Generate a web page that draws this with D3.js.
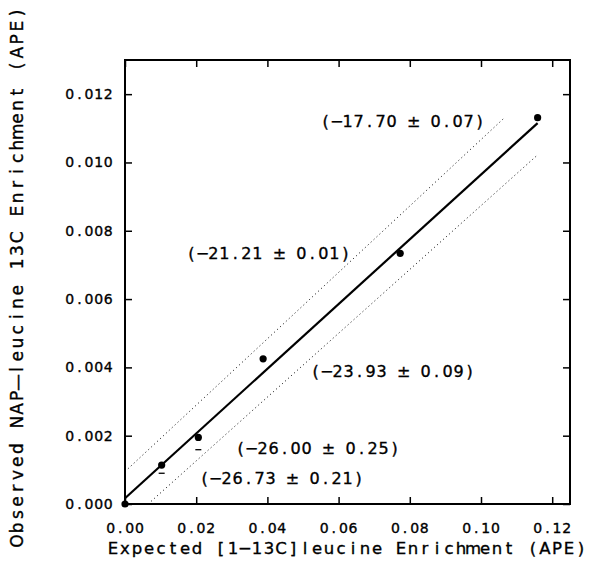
<!DOCTYPE html>
<html>
<head>
<meta charset="utf-8">
<script src="https://cdn.jsdelivr.net/npm/d3@7"></script>
<style>
  body { margin: 0; background: #fff; }
  text { font-family: 'DejaVu Sans', sans-serif; fill: #000; stroke: #000; stroke-width: 0.35px; }
</style>
</head>
<body>
<div id="chart"></div>
<script>
// observed vs expected enrichment
const expX = [0, 0.0103, 0.0206, 0.0388, 0.0773, 0.1159]
const obsY = [0, 0.00114, 0.00195, 0.00425, 0.00734, 0.01131]
const obsErr = [0, 0.00024, 0.00036, 0, 0, 0]

// regression line + dotted bands (end points)
const fitX = [0, 0.1159]
const fitY = [0.00017, 0.01115]
const upperX = [0, 0.1067]
const upperY = [0.00095, 0.01132]
const lowerX = [0.0065, 0.1161]
const lowerY = [0, 0.01024]

const xTicks = [0, 0.02, 0.04, 0.06, 0.08, 0.10, 0.12]
const yTicks = [0, 0.002, 0.004, 0.006, 0.008, 0.010, 0.012]

const labels = ['(−17.70 ± 0.07)', '(−21.21 ± 0.01)', '(−23.93 ± 0.09)', '(−26.00 ± 0.25)', '(−26.73 ± 0.21)']
const labelX = [0.0548, 0.0171, 0.0520, 0.0309, 0.0208]
const labelY = [0.01104, 0.00717, 0.00372, 0.00146, 0.00059]

const xTitle = 'Expected [1−13C]leucine Enrichment (APE)'
const yTitle = 'Observed NAP—leucine 13C Enrichment (APE)'

const W = 604, H = 568
const m = { top: 60, right: 34, bottom: 64, left: 125 }

const svg = d3.select('#chart').append('svg').attr('width', W).attr('height', H).style('background', '#fff')

const x = d3.scaleLinear().domain([0, 0.125]).range([m.left, W - m.right])
const y = d3.scaleLinear().domain([0, 0.013]).range([H - m.bottom, m.top])

// plotter font is fixed pitch: put every glyph in its own cell
function monoText (sel, str, x0, y0, cell, size) {
  const chars = Array.from(str)
  return sel.append('text')
    .attr('x', chars.map((c, i) => (x0 + cell * (i + 0.5)).toFixed(1)).join(' '))
    .attr('y', y0)
    .attr('text-anchor', 'middle')
    .attr('font-size', size)
    .text(str)
}

// ticks on all four sides, pointing in
const tk = 7
svg.append('g').attr('transform', `translate(0,${y(0)})`)
  .call(d3.axisBottom(x).tickValues(xTicks).tickSize(-tk).tickSizeOuter(0).tickFormat(''))
svg.append('g').attr('transform', `translate(0,${y(0.013)})`)
  .call(d3.axisTop(x).tickValues(xTicks).tickSize(-tk).tickSizeOuter(0).tickFormat(''))
svg.append('g').attr('transform', `translate(${x(0)},0)`)
  .call(d3.axisLeft(y).tickValues(yTicks).tickSize(-tk).tickSizeOuter(0).tickFormat(''))
svg.append('g').attr('transform', `translate(${x(0.125)},0)`)
  .call(d3.axisRight(y).tickValues(yTicks).tickSize(-tk).tickSizeOuter(0).tickFormat(''))
svg.selectAll('.domain').remove()
svg.selectAll('.tick line').attr('stroke', '#000').attr('stroke-width', 1.5)

svg.append('rect')
  .attr('x', x(0)).attr('y', y(0.013))
  .attr('width', x(0.125) - x(0)).attr('height', y(0) - y(0.013))
  .attr('fill', 'none').attr('stroke', '#000').attr('stroke-width', 2)

// tick labels
const fx = d3.format('.2f'), fy = d3.format('.3f')
xTicks.forEach(d => {
  const s = fx(d)
  monoText(svg, s, x(d) - s.length * 9.6 / 2, y(0) + 29, 9.6, 14)
})
yTicks.forEach(d => {
  const s = fy(d)
  monoText(svg, s, x(0) - 12 - s.length * 9.6, y(d) + 5, 9.6, 14)
})

// axis titles
monoText(svg, xTitle, 107, 554, 12, 16.5)
const gy = svg.append('g').attr('transform', 'translate(23,277) rotate(-90)')
monoText(gy, yTitle, -Array.from(yTitle).length * 13.2 / 2, 0, 13.2, 17)

// bands and fit
const line = d3.line().x(d => x(d[0])).y(d => y(d[1]))
svg.append('path').datum(d3.zip(upperX, upperY)).attr('d', line)
  .attr('fill', 'none').attr('stroke', '#000').attr('stroke-width', 1).attr('stroke-dasharray', '1,3')
svg.append('path').datum(d3.zip(lowerX, lowerY)).attr('d', line)
  .attr('fill', 'none').attr('stroke', '#000').attr('stroke-width', 1).attr('stroke-dasharray', '1,3')
svg.append('path').datum(d3.zip(fitX, fitY)).attr('d', line)
  .attr('fill', 'none').attr('stroke', '#000').attr('stroke-width', 2.2)

// only the lower whisker caps show under the dots
const pts = d3.zip(expX, obsY, obsErr)
svg.append('g').selectAll('line').data(pts.filter(d => d[2] > 0)).join('line')
  .attr('x1', d => x(d[0]) - 3).attr('x2', d => x(d[0]) + 3)
  .attr('y1', d => y(d[1] - d[2])).attr('y2', d => y(d[1] - d[2]))
  .attr('stroke', '#000').attr('stroke-width', 1.3)

svg.append('g').selectAll('circle').data(pts).join('circle')
  .attr('cx', d => x(d[0])).attr('cy', d => y(d[1])).attr('r', 3.6).attr('fill', '#000')

// isotope values next to each point
labels.forEach((s, i) => {
  monoText(svg, s, x(labelX[i]), y(labelY[i]), 11, 16)
})
</script>
</body>
</html>
